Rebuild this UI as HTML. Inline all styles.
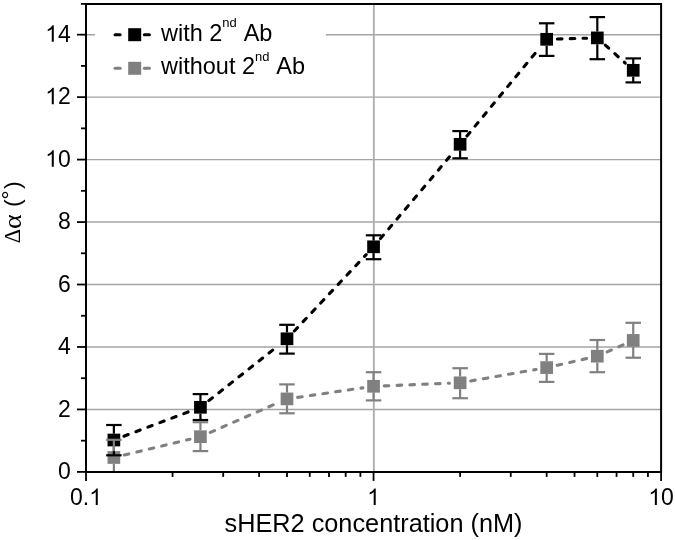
<!DOCTYPE html>
<html><head><meta charset="utf-8"><style>
html,body{margin:0;padding:0;background:#fff;}
svg{display:block;font-family:"Liberation Sans",sans-serif;will-change:transform;}
</style></head><body>
<svg width="675" height="540" viewBox="0 0 675 540">
<rect width="675" height="540" fill="#fff"/>
<line x1="86.0" y1="409.44" x2="661.10" y2="409.44" stroke="#a4a4a4" stroke-width="1.4"/>
<line x1="86.0" y1="346.98" x2="661.10" y2="346.98" stroke="#a4a4a4" stroke-width="1.4"/>
<line x1="86.0" y1="284.52" x2="661.10" y2="284.52" stroke="#a4a4a4" stroke-width="1.4"/>
<line x1="86.0" y1="222.06" x2="661.10" y2="222.06" stroke="#a4a4a4" stroke-width="1.4"/>
<line x1="86.0" y1="159.60" x2="661.10" y2="159.60" stroke="#a4a4a4" stroke-width="1.4"/>
<line x1="86.0" y1="97.14" x2="661.10" y2="97.14" stroke="#a4a4a4" stroke-width="1.4"/>
<line x1="86.0" y1="34.68" x2="661.10" y2="34.68" stroke="#a4a4a4" stroke-width="1.4"/>
<line x1="373.83" y1="3.45" x2="373.83" y2="471.9" stroke="#acacac" stroke-width="1.8"/>
<rect x="95" y="12" width="231" height="74" fill="#fff"/>
<line x1="123.92" y1="436.20" x2="190.37" y2="411.10" stroke="#000" stroke-width="3.1" stroke-dasharray="4.6 8.2" stroke-linecap="round"/><line x1="208.86" y1="400.63" x2="278.56" y2="345.47" stroke="#000" stroke-width="3.1" stroke-dasharray="4.6 8.2" stroke-linecap="round"/><line x1="294.36" y1="330.97" x2="366.18" y2="254.63" stroke="#000" stroke-width="3.1" stroke-dasharray="4.6 8.2" stroke-linecap="round"/><line x1="380.49" y1="238.59" x2="453.18" y2="152.51" stroke="#000" stroke-width="3.1" stroke-dasharray="4.6 8.2" stroke-linecap="round"/><line x1="466.95" y1="136.01" x2="539.83" y2="47.59" stroke="#000" stroke-width="3.1" stroke-dasharray="4.6 8.2" stroke-linecap="round"/><line x1="557.42" y1="39.00" x2="586.56" y2="38.20" stroke="#000" stroke-width="3.1" stroke-dasharray="4.6 8.2" stroke-linecap="round"/><line x1="605.29" y1="45.10" x2="625.25" y2="63.10" stroke="#000" stroke-width="3.1" stroke-dasharray="4.6 8.2" stroke-linecap="round"/>
<line x1="124.32" y1="454.99" x2="189.98" y2="439.21" stroke="#808080" stroke-width="3.1" stroke-dasharray="4.6 8.2" stroke-linecap="round"/><line x1="210.28" y1="432.40" x2="277.14" y2="403.20" stroke="#808080" stroke-width="3.1" stroke-dasharray="4.6 8.2" stroke-linecap="round"/><line x1="297.63" y1="397.35" x2="362.91" y2="387.85" stroke="#808080" stroke-width="3.1" stroke-dasharray="4.6 8.2" stroke-linecap="round"/><line x1="384.29" y1="385.87" x2="449.37" y2="383.23" stroke="#808080" stroke-width="3.1" stroke-dasharray="4.6 8.2" stroke-linecap="round"/><line x1="470.70" y1="380.94" x2="536.08" y2="369.46" stroke="#808080" stroke-width="3.1" stroke-dasharray="4.6 8.2" stroke-linecap="round"/><line x1="557.16" y1="365.24" x2="586.82" y2="358.56" stroke="#808080" stroke-width="3.1" stroke-dasharray="4.6 8.2" stroke-linecap="round"/><line x1="607.15" y1="351.87" x2="623.39" y2="344.73" stroke="#808080" stroke-width="3.1" stroke-dasharray="4.6 8.2" stroke-linecap="round"/>
<rect x="107.52" y="433.65" width="12.7" height="12.7" fill="#000"/>
<rect x="194.08" y="400.95" width="12.7" height="12.7" fill="#000"/>
<rect x="280.64" y="332.45" width="12.7" height="12.7" fill="#000"/>
<rect x="367.20" y="240.45" width="12.7" height="12.7" fill="#000"/>
<rect x="453.76" y="137.95" width="12.7" height="12.7" fill="#000"/>
<rect x="540.32" y="32.95" width="12.7" height="12.7" fill="#000"/>
<rect x="590.96" y="31.55" width="12.7" height="12.7" fill="#000"/>
<rect x="626.88" y="63.95" width="12.7" height="12.7" fill="#000"/>
<rect x="107.52" y="451.15" width="12.7" height="12.7" fill="#808080"/>
<rect x="194.08" y="430.35" width="12.7" height="12.7" fill="#808080"/>
<rect x="280.64" y="392.55" width="12.7" height="12.7" fill="#808080"/>
<rect x="367.20" y="379.95" width="12.7" height="12.7" fill="#808080"/>
<rect x="453.76" y="376.45" width="12.7" height="12.7" fill="#808080"/>
<rect x="540.32" y="361.25" width="12.7" height="12.7" fill="#808080"/>
<rect x="590.96" y="349.85" width="12.7" height="12.7" fill="#808080"/>
<rect x="626.88" y="334.05" width="12.7" height="12.7" fill="#808080"/>
<line x1="113.87" y1="425.00" x2="113.87" y2="433.65" stroke="#000" stroke-width="2.2"/><line x1="113.87" y1="446.35" x2="113.87" y2="455.30" stroke="#000" stroke-width="2.2"/><line x1="106.12" y1="425.00" x2="121.62" y2="425.00" stroke="#000" stroke-width="2.2"/><line x1="106.12" y1="455.30" x2="121.62" y2="455.30" stroke="#000" stroke-width="2.2"/><line x1="200.43" y1="394.10" x2="200.43" y2="400.95" stroke="#000" stroke-width="2.2"/><line x1="200.43" y1="413.65" x2="200.43" y2="420.00" stroke="#000" stroke-width="2.2"/><line x1="192.68" y1="394.10" x2="208.18" y2="394.10" stroke="#000" stroke-width="2.2"/><line x1="192.68" y1="420.00" x2="208.18" y2="420.00" stroke="#000" stroke-width="2.2"/><line x1="286.99" y1="324.80" x2="286.99" y2="332.45" stroke="#000" stroke-width="2.2"/><line x1="286.99" y1="345.15" x2="286.99" y2="353.60" stroke="#000" stroke-width="2.2"/><line x1="279.24" y1="324.80" x2="294.74" y2="324.80" stroke="#000" stroke-width="2.2"/><line x1="279.24" y1="353.60" x2="294.74" y2="353.60" stroke="#000" stroke-width="2.2"/><line x1="373.55" y1="235.30" x2="373.55" y2="240.45" stroke="#000" stroke-width="2.2"/><line x1="373.55" y1="253.15" x2="373.55" y2="259.20" stroke="#000" stroke-width="2.2"/><line x1="365.80" y1="235.30" x2="381.30" y2="235.30" stroke="#000" stroke-width="2.2"/><line x1="365.80" y1="259.20" x2="381.30" y2="259.20" stroke="#000" stroke-width="2.2"/><line x1="460.11" y1="131.10" x2="460.11" y2="137.95" stroke="#000" stroke-width="2.2"/><line x1="460.11" y1="150.65" x2="460.11" y2="158.30" stroke="#000" stroke-width="2.2"/><line x1="452.36" y1="131.10" x2="467.86" y2="131.10" stroke="#000" stroke-width="2.2"/><line x1="452.36" y1="158.30" x2="467.86" y2="158.30" stroke="#000" stroke-width="2.2"/><line x1="546.67" y1="23.30" x2="546.67" y2="32.95" stroke="#000" stroke-width="2.2"/><line x1="546.67" y1="45.65" x2="546.67" y2="55.90" stroke="#000" stroke-width="2.2"/><line x1="538.92" y1="23.30" x2="554.42" y2="23.30" stroke="#000" stroke-width="2.2"/><line x1="538.92" y1="55.90" x2="554.42" y2="55.90" stroke="#000" stroke-width="2.2"/><line x1="597.31" y1="17.10" x2="597.31" y2="31.55" stroke="#000" stroke-width="2.2"/><line x1="597.31" y1="44.25" x2="597.31" y2="59.20" stroke="#000" stroke-width="2.2"/><line x1="589.56" y1="17.10" x2="605.06" y2="17.10" stroke="#000" stroke-width="2.2"/><line x1="589.56" y1="59.20" x2="605.06" y2="59.20" stroke="#000" stroke-width="2.2"/><line x1="633.23" y1="58.40" x2="633.23" y2="63.95" stroke="#000" stroke-width="2.2"/><line x1="633.23" y1="76.65" x2="633.23" y2="82.40" stroke="#000" stroke-width="2.2"/><line x1="625.48" y1="58.40" x2="640.98" y2="58.40" stroke="#000" stroke-width="2.2"/><line x1="625.48" y1="82.40" x2="640.98" y2="82.40" stroke="#000" stroke-width="2.2"/>
<line x1="113.87" y1="439.80" x2="113.87" y2="451.15" stroke="#808080" stroke-width="2.2"/><line x1="113.87" y1="463.85" x2="113.87" y2="471.90" stroke="#808080" stroke-width="2.2"/><line x1="106.12" y1="439.80" x2="121.62" y2="439.80" stroke="#808080" stroke-width="2.2"/><line x1="200.43" y1="422.20" x2="200.43" y2="430.35" stroke="#808080" stroke-width="2.2"/><line x1="200.43" y1="443.05" x2="200.43" y2="451.10" stroke="#808080" stroke-width="2.2"/><line x1="192.68" y1="422.20" x2="208.18" y2="422.20" stroke="#808080" stroke-width="2.2"/><line x1="192.68" y1="451.10" x2="208.18" y2="451.10" stroke="#808080" stroke-width="2.2"/><line x1="286.99" y1="384.40" x2="286.99" y2="392.55" stroke="#808080" stroke-width="2.2"/><line x1="286.99" y1="405.25" x2="286.99" y2="413.30" stroke="#808080" stroke-width="2.2"/><line x1="279.24" y1="384.40" x2="294.74" y2="384.40" stroke="#808080" stroke-width="2.2"/><line x1="279.24" y1="413.30" x2="294.74" y2="413.30" stroke="#808080" stroke-width="2.2"/><line x1="373.55" y1="372.20" x2="373.55" y2="379.95" stroke="#808080" stroke-width="2.2"/><line x1="373.55" y1="392.65" x2="373.55" y2="400.40" stroke="#808080" stroke-width="2.2"/><line x1="365.80" y1="372.20" x2="381.30" y2="372.20" stroke="#808080" stroke-width="2.2"/><line x1="365.80" y1="400.40" x2="381.30" y2="400.40" stroke="#808080" stroke-width="2.2"/><line x1="460.11" y1="368.20" x2="460.11" y2="376.45" stroke="#808080" stroke-width="2.2"/><line x1="460.11" y1="389.15" x2="460.11" y2="398.20" stroke="#808080" stroke-width="2.2"/><line x1="452.36" y1="368.20" x2="467.86" y2="368.20" stroke="#808080" stroke-width="2.2"/><line x1="452.36" y1="398.20" x2="467.86" y2="398.20" stroke="#808080" stroke-width="2.2"/><line x1="546.67" y1="353.90" x2="546.67" y2="361.25" stroke="#808080" stroke-width="2.2"/><line x1="546.67" y1="373.95" x2="546.67" y2="381.90" stroke="#808080" stroke-width="2.2"/><line x1="538.92" y1="353.90" x2="554.42" y2="353.90" stroke="#808080" stroke-width="2.2"/><line x1="538.92" y1="381.90" x2="554.42" y2="381.90" stroke="#808080" stroke-width="2.2"/><line x1="597.31" y1="340.00" x2="597.31" y2="349.85" stroke="#808080" stroke-width="2.2"/><line x1="597.31" y1="362.55" x2="597.31" y2="372.20" stroke="#808080" stroke-width="2.2"/><line x1="589.56" y1="340.00" x2="605.06" y2="340.00" stroke="#808080" stroke-width="2.2"/><line x1="589.56" y1="372.20" x2="605.06" y2="372.20" stroke="#808080" stroke-width="2.2"/><line x1="633.23" y1="322.80" x2="633.23" y2="334.05" stroke="#808080" stroke-width="2.2"/><line x1="633.23" y1="346.75" x2="633.23" y2="357.70" stroke="#808080" stroke-width="2.2"/><line x1="625.48" y1="322.80" x2="640.98" y2="322.80" stroke="#808080" stroke-width="2.2"/><line x1="625.48" y1="357.70" x2="640.98" y2="357.70" stroke="#808080" stroke-width="2.2"/>
<path d="M86.0,3.9 H661.10 V472.0 H86.0 Z" fill="none" stroke="#000" stroke-width="2.0" stroke-linejoin="miter"/>
<line x1="77.00" y1="471.90" x2="86.0" y2="471.90" stroke="#000" stroke-width="1.8"/>
<line x1="81.00" y1="440.67" x2="86.0" y2="440.67" stroke="#000" stroke-width="1.8"/>
<line x1="77.00" y1="409.44" x2="86.0" y2="409.44" stroke="#000" stroke-width="1.8"/>
<line x1="81.00" y1="378.21" x2="86.0" y2="378.21" stroke="#000" stroke-width="1.8"/>
<line x1="77.00" y1="346.98" x2="86.0" y2="346.98" stroke="#000" stroke-width="1.8"/>
<line x1="81.00" y1="315.75" x2="86.0" y2="315.75" stroke="#000" stroke-width="1.8"/>
<line x1="77.00" y1="284.52" x2="86.0" y2="284.52" stroke="#000" stroke-width="1.8"/>
<line x1="81.00" y1="253.29" x2="86.0" y2="253.29" stroke="#000" stroke-width="1.8"/>
<line x1="77.00" y1="222.06" x2="86.0" y2="222.06" stroke="#000" stroke-width="1.8"/>
<line x1="81.00" y1="190.83" x2="86.0" y2="190.83" stroke="#000" stroke-width="1.8"/>
<line x1="77.00" y1="159.60" x2="86.0" y2="159.60" stroke="#000" stroke-width="1.8"/>
<line x1="81.00" y1="128.37" x2="86.0" y2="128.37" stroke="#000" stroke-width="1.8"/>
<line x1="77.00" y1="97.14" x2="86.0" y2="97.14" stroke="#000" stroke-width="1.8"/>
<line x1="81.00" y1="65.91" x2="86.0" y2="65.91" stroke="#000" stroke-width="1.8"/>
<line x1="77.00" y1="34.68" x2="86.0" y2="34.68" stroke="#000" stroke-width="1.8"/>
<line x1="81.00" y1="3.90" x2="86.0" y2="3.90" stroke="#000" stroke-width="1.8"/>
<line x1="86.00" y1="471.9" x2="86.00" y2="480.90" stroke="#000" stroke-width="1.8"/>
<line x1="172.56" y1="471.9" x2="172.56" y2="476.90" stroke="#000" stroke-width="1.8"/>
<line x1="223.20" y1="471.9" x2="223.20" y2="476.90" stroke="#000" stroke-width="1.8"/>
<line x1="259.12" y1="471.9" x2="259.12" y2="476.90" stroke="#000" stroke-width="1.8"/>
<line x1="286.99" y1="471.9" x2="286.99" y2="476.90" stroke="#000" stroke-width="1.8"/>
<line x1="309.76" y1="471.9" x2="309.76" y2="476.90" stroke="#000" stroke-width="1.8"/>
<line x1="329.01" y1="471.9" x2="329.01" y2="476.90" stroke="#000" stroke-width="1.8"/>
<line x1="345.68" y1="471.9" x2="345.68" y2="476.90" stroke="#000" stroke-width="1.8"/>
<line x1="360.39" y1="471.9" x2="360.39" y2="476.90" stroke="#000" stroke-width="1.8"/>
<line x1="373.55" y1="471.9" x2="373.55" y2="480.90" stroke="#000" stroke-width="1.8"/>
<line x1="460.11" y1="471.9" x2="460.11" y2="476.90" stroke="#000" stroke-width="1.8"/>
<line x1="510.75" y1="471.9" x2="510.75" y2="476.90" stroke="#000" stroke-width="1.8"/>
<line x1="546.67" y1="471.9" x2="546.67" y2="476.90" stroke="#000" stroke-width="1.8"/>
<line x1="574.54" y1="471.9" x2="574.54" y2="476.90" stroke="#000" stroke-width="1.8"/>
<line x1="597.31" y1="471.9" x2="597.31" y2="476.90" stroke="#000" stroke-width="1.8"/>
<line x1="616.56" y1="471.9" x2="616.56" y2="476.90" stroke="#000" stroke-width="1.8"/>
<line x1="633.23" y1="471.9" x2="633.23" y2="476.90" stroke="#000" stroke-width="1.8"/>
<line x1="647.94" y1="471.9" x2="647.94" y2="476.90" stroke="#000" stroke-width="1.8"/>
<line x1="661.10" y1="471.9" x2="661.10" y2="480.90" stroke="#000" stroke-width="1.8"/>
<text transform="translate(58.01,479.00) scale(1,1.041)" font-size="23" >0</text>
<text transform="translate(58.01,416.54) scale(1,1.041)" font-size="23" >2</text>
<text transform="translate(58.01,354.08) scale(1,1.041)" font-size="23" >4</text>
<text transform="translate(58.01,291.62) scale(1,1.041)" font-size="23" >6</text>
<text transform="translate(58.01,229.16) scale(1,1.041)" font-size="23" >8</text>
<text transform="translate(45.22,166.70) scale(1,1.041)" font-size="23" > 0</text><path transform="translate(45.22,166.70) scale(0.01123,-0.01123)" d="M763 0H583V1147Q518 1085 415 1024Q312 963 223 930V1104Q374 1175 486.5 1275.5Q599 1376 646 1472H763Z"/>
<text transform="translate(45.22,104.24) scale(1,1.041)" font-size="23" > 2</text><path transform="translate(45.22,104.24) scale(0.01123,-0.01123)" d="M763 0H583V1147Q518 1085 415 1024Q312 963 223 930V1104Q374 1175 486.5 1275.5Q599 1376 646 1472H763Z"/>
<text transform="translate(45.22,41.78) scale(1,1.041)" font-size="23" > 4</text><path transform="translate(45.22,41.78) scale(0.01123,-0.01123)" d="M763 0H583V1147Q518 1085 415 1024Q312 963 223 930V1104Q374 1175 486.5 1275.5Q599 1376 646 1472H763Z"/>
<text transform="translate(70.01,505.00) scale(1,1.041)" font-size="23" >0. </text><path transform="translate(89.20,505.00) scale(0.01123,-0.01123)" d="M763 0H583V1147Q518 1085 415 1024Q312 963 223 930V1104Q374 1175 486.5 1275.5Q599 1376 646 1472H763Z"/>
<text transform="translate(367.15,505.00) scale(1,1.041)" font-size="23" > </text><path transform="translate(367.15,505.00) scale(0.01123,-0.01123)" d="M763 0H583V1147Q518 1085 415 1024Q312 963 223 930V1104Q374 1175 486.5 1275.5Q599 1376 646 1472H763Z"/>
<text transform="translate(648.31,505.00) scale(1,1.041)" font-size="23" > 0</text><path transform="translate(648.31,505.00) scale(0.01123,-0.01123)" d="M763 0H583V1147Q518 1085 415 1024Q312 963 223 930V1104Q374 1175 486.5 1275.5Q599 1376 646 1472H763Z"/>
<text transform="translate(373.5,532.3) scale(1,1.041)" text-anchor="middle" font-size="25.3">sHER2 concentration (nM)</text>
<g transform="translate(20,243) rotate(-90)"><text x="-0.36" y="0" font-family="Liberation Serif" font-size="22.5">&#916;</text><text transform="translate(13.93,0.5) scale(1.155,1)" font-family="Liberation Serif" font-size="24.3">&#945;</text><text x="36.0" y="0" font-size="22.8">(</text><text x="43.5" y="-1.8" font-size="22.8">&#176;</text><text x="54.0" y="0" font-size="22.8">)</text></g>
<line x1="115.1" y1="34.7" x2="120.1" y2="34.7" stroke="#000" stroke-width="3.1" stroke-linecap="round"/><line x1="144.4" y1="34.7" x2="149.4" y2="34.7" stroke="#000" stroke-width="3.1" stroke-linecap="round"/><rect x="128.2" y="28.200000000000003" width="13" height="13" fill="#000"/><text transform="translate(161,40.50) scale(1,1.041)" font-size="23.5">with 2<tspan font-size="13" dy="-12.6">nd</tspan><tspan dy="12.6" dx="1.6"> Ab</tspan></text>
<line x1="115.1" y1="68.3" x2="120.1" y2="68.3" stroke="#808080" stroke-width="3.1" stroke-linecap="round"/><line x1="144.4" y1="68.3" x2="149.4" y2="68.3" stroke="#808080" stroke-width="3.1" stroke-linecap="round"/><rect x="128.2" y="61.8" width="13" height="13" fill="#808080"/><text transform="translate(161,74.10) scale(1,1.041)" font-size="23.5">without 2<tspan font-size="13" dy="-12.6">nd</tspan><tspan dy="12.6" dx="1.6"> Ab</tspan></text>
</svg></body></html>
